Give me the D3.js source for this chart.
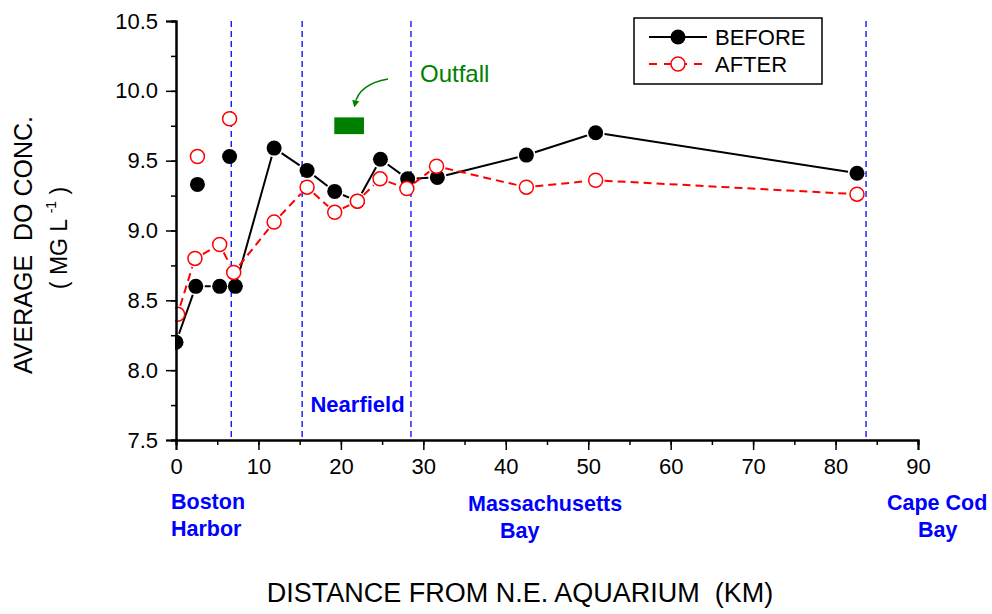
<!DOCTYPE html>
<html>
<head>
<meta charset="utf-8">
<script src="https://cdn.jsdelivr.net/npm/d3@7"></script>
<style>
  html, body { margin: 0; padding: 0; background: #fff; }
  svg { display: block; font-family: "Liberation Sans", Arial, sans-serif; }
  svg text { white-space: pre; }
</style>
</head>
<body>
<svg id="chart" width="992" height="614"></svg>
<script>
// Average dissolved-oxygen concentration along the transect, before / after
const beforeKm = [0, 2.4, 5.3, 7.2, 11.9, 15.9, 19.25, 22.0, 24.8, 28.1, 31.7, 42.5, 50.9, 82.6];
const beforeDO = [8.20, 8.60, 8.60, 8.60, 9.59, 9.43, 9.28, 9.21, 9.51, 9.37, 9.38, 9.54, 9.70, 9.41];
const beforeExtraKm = [2.6, 6.5];
const beforeExtraDO = [9.33, 9.53];

const afterKm = [0.2, 2.3, 5.3, 7.0, 11.9, 15.9, 19.25, 22.0, 24.75, 28.0, 31.6, 42.5, 50.9, 82.6];
const afterDO = [8.40, 8.80, 8.90, 8.70, 9.06, 9.31, 9.13, 9.21, 9.37, 9.30, 9.46, 9.31, 9.36, 9.26];
const afterExtraKm = [2.6, 6.5];
const afterExtraDO = [9.53, 9.80];

// Region boundaries (km)
const boundaryKm = [6.7, 15.3, 28.5, 83.7];

// Outfall marker extent (km, mg/L)
const outfallKm = [19.2, 22.8];
const outfallDO = [9.69, 9.81];

const xTicks = [0, 10, 20, 30, 40, 50, 60, 70, 80, 90];
const yTicks = [7.5, 8.0, 8.5, 9.0, 9.5, 10.0, 10.5];

const svg = d3.select("#chart");
const x = d3.scaleLinear().domain([0, 90]).range([176, 918]);
const y = d3.scaleLinear().domain([7.5, 10.5]).range([440, 21]);

const zip = (xs, ys) => xs.map((v, i) => ({ km: v, val: ys[i] }));
const before = zip(beforeKm, beforeDO);
const after = zip(afterKm, afterDO);
const beforeExtra = zip(beforeExtraKm, beforeExtraDO);
const afterExtra = zip(afterExtraKm, afterExtraDO);

const R = 7;

// clip marks at the y axis
svg.append("defs").append("clipPath").attr("id", "plotClip")
  .append("rect").attr("x", x(0) - 1).attr("y", 0).attr("width", 992).attr("height", y(7.5) + 2);

// region boundary lines
svg.append("g").selectAll("line").data(boundaryKm).join("line")
  .attr("x1", d => x(d)).attr("x2", d => x(d))
  .attr("y1", y(10.5)).attr("y2", y(7.5))
  .attr("stroke", "#0000ff").attr("stroke-width", 1.3)
  .attr("stroke-dasharray", "6,4");

// polyline built from segments that stop short of the markers
function gappedPath(pts, gap) {
  let d = "";
  for (let i = 0; i < pts.length - 1; i++) {
    const x1 = x(pts[i].km), y1 = y(pts[i].val);
    const x2 = x(pts[i + 1].km), y2 = y(pts[i + 1].val);
    const len = Math.hypot(x2 - x1, y2 - y1);
    if (len <= 2 * gap) continue;
    const ux = (x2 - x1) / len, uy = (y2 - y1) / len;
    d += `M${x1 + ux * gap},${y1 + uy * gap}L${x2 - ux * gap},${y2 - uy * gap}`;
  }
  return d;
}

const plot = svg.append("g").attr("clip-path", "url(#plotClip)");

plot.append("path").attr("d", gappedPath(before, R + 2))
  .attr("fill", "none").attr("stroke", "#000").attr("stroke-width", 2);
plot.append("path").attr("d", gappedPath(after, R + 2))
  .attr("fill", "none").attr("stroke", "#ff0000").attr("stroke-width", 2)
  .attr("stroke-dasharray", "8,5");

plot.append("g").selectAll("circle").data(before.concat(beforeExtra)).join("circle")
  .attr("cx", d => x(d.km)).attr("cy", d => y(d.val)).attr("r", R + 0.5)
  .attr("fill", "#000");
plot.append("g").selectAll("circle").data(after.concat(afterExtra)).join("circle")
  .attr("cx", d => x(d.km)).attr("cy", d => y(d.val)).attr("r", R)
  .attr("fill", "#fff").attr("stroke", "#ff0000").attr("stroke-width", 1.5);

// axes
const xAxis = svg.append("g").attr("transform", `translate(0,${y(7.5)})`);
xAxis.call(d3.axisBottom(x).tickValues(d3.range(0, 91, 5)).tickSize(5).tickFormat(""));
xAxis.append("g").call(d3.axisBottom(x).tickValues(xTicks).tickSize(10).tickFormat(d3.format("d")));
const yAxis = svg.append("g").attr("transform", `translate(${x(0)},0)`);
yAxis.call(d3.axisLeft(y).tickValues(d3.range(7.5, 10.51, 0.25)).tickSize(5).tickFormat(""));
yAxis.append("g").call(d3.axisLeft(y).tickValues(yTicks).tickSize(10).tickFormat(d3.format(".1f")));

svg.selectAll(".domain").attr("stroke", "#000").attr("stroke-width", 2);
svg.selectAll(".tick line").attr("stroke", "#000").attr("stroke-width", 1.5);
svg.selectAll(".tick text").attr("font-family", "Liberation Sans, Arial, sans-serif")
  .attr("font-size", 22).attr("fill", "#000");
xAxis.selectAll(".tick text").attr("dy", "0.75em").attr("y", 17);
yAxis.selectAll(".tick text").attr("x", -18);

// axis titles
svg.append("text").attr("x", 520).attr("y", 602).attr("text-anchor", "middle")
  .attr("font-size", 27).text("DISTANCE FROM N.E. AQUARIUM  (KM)");

svg.append("text").attr("transform", "translate(32,245) rotate(-90)")
  .attr("text-anchor", "middle").attr("font-size", 25)
  .text("AVERAGE  DO CONC.");
const unit = svg.append("text").attr("transform", "translate(67,238) rotate(-90)")
  .attr("text-anchor", "middle").attr("font-size", 23);
unit.append("tspan").text("( MG L ");
unit.append("tspan").attr("font-size", 14).attr("dy", -11).text("-1");
unit.append("tspan").attr("dy", 11).text(" )");

// region labels
const blue = "#0000ff";
function regionLabel(lines, xs, y0) {
  lines.forEach((t, i) => {
    svg.append("text").attr("x", xs[i]).attr("y", y0 + i * 27)
      .attr("font-size", 21.5).attr("font-weight", "bold").attr("fill", blue).text(t);
  });
}
regionLabel(["Boston", "Harbor"], [171, 171], 509);
regionLabel(["Massachusetts", "Bay"], [468, 500], 511);
regionLabel(["Cape Cod", "Bay"], [887, 918], 510);
svg.append("text").attr("x", (x(15.3) + x(28.5)) / 2 + 1).attr("y", 412)
  .attr("text-anchor", "middle").attr("font-size", 22).attr("font-weight", "bold")
  .attr("fill", blue).text("Nearfield");

// outfall marker and note
const green = "#008000";
svg.append("rect")
  .attr("x", x(outfallKm[0])).attr("y", y(outfallDO[1]))
  .attr("width", x(outfallKm[1]) - x(outfallKm[0]))
  .attr("height", y(outfallDO[0]) - y(outfallDO[1]))
  .attr("fill", green);
svg.append("defs").append("marker").attr("id", "arrowHead")
  .attr("viewBox", "0 0 10 10").attr("refX", 5).attr("refY", 5)
  .attr("markerWidth", 7).attr("markerHeight", 7).attr("orient", "auto")
  .attr("markerUnits", "userSpaceOnUse")
  .append("path").attr("d", "M0,0L10,5L0,10Z").attr("fill", green);
svg.append("path").attr("d", "M388,79 Q359,84 355,104")
  .attr("fill", "none").attr("stroke", green).attr("stroke-width", 1.5)
  .attr("marker-end", "url(#arrowHead)");
svg.append("text").attr("x", 420).attr("y", 82).attr("font-size", 24)
  .attr("fill", green).text("Outfall");

// legend
const lg = svg.append("g");
lg.append("rect").attr("x", 634).attr("y", 18).attr("width", 188).attr("height", 66)
  .attr("fill", "#fff").attr("stroke", "#000").attr("stroke-width", 1.5);
lg.append("line").attr("x1", 649).attr("x2", 707).attr("y1", 37).attr("y2", 37)
  .attr("stroke", "#000").attr("stroke-width", 2);
lg.append("circle").attr("cx", 678).attr("cy", 37).attr("r", R + 0.5).attr("fill", "#000");
lg.append("line").attr("x1", 649).attr("x2", 707).attr("y1", 64).attr("y2", 64)
  .attr("stroke", "#ff0000").attr("stroke-width", 2).attr("stroke-dasharray", "8,7");
lg.append("circle").attr("cx", 678).attr("cy", 64).attr("r", R)
  .attr("fill", "#fff").attr("stroke", "#ff0000").attr("stroke-width", 1.5);
lg.append("text").attr("x", 715).attr("y", 45).attr("font-size", 22).text("BEFORE");
lg.append("text").attr("x", 715).attr("y", 72).attr("font-size", 22).text("AFTER");
</script>
</body>
</html>
